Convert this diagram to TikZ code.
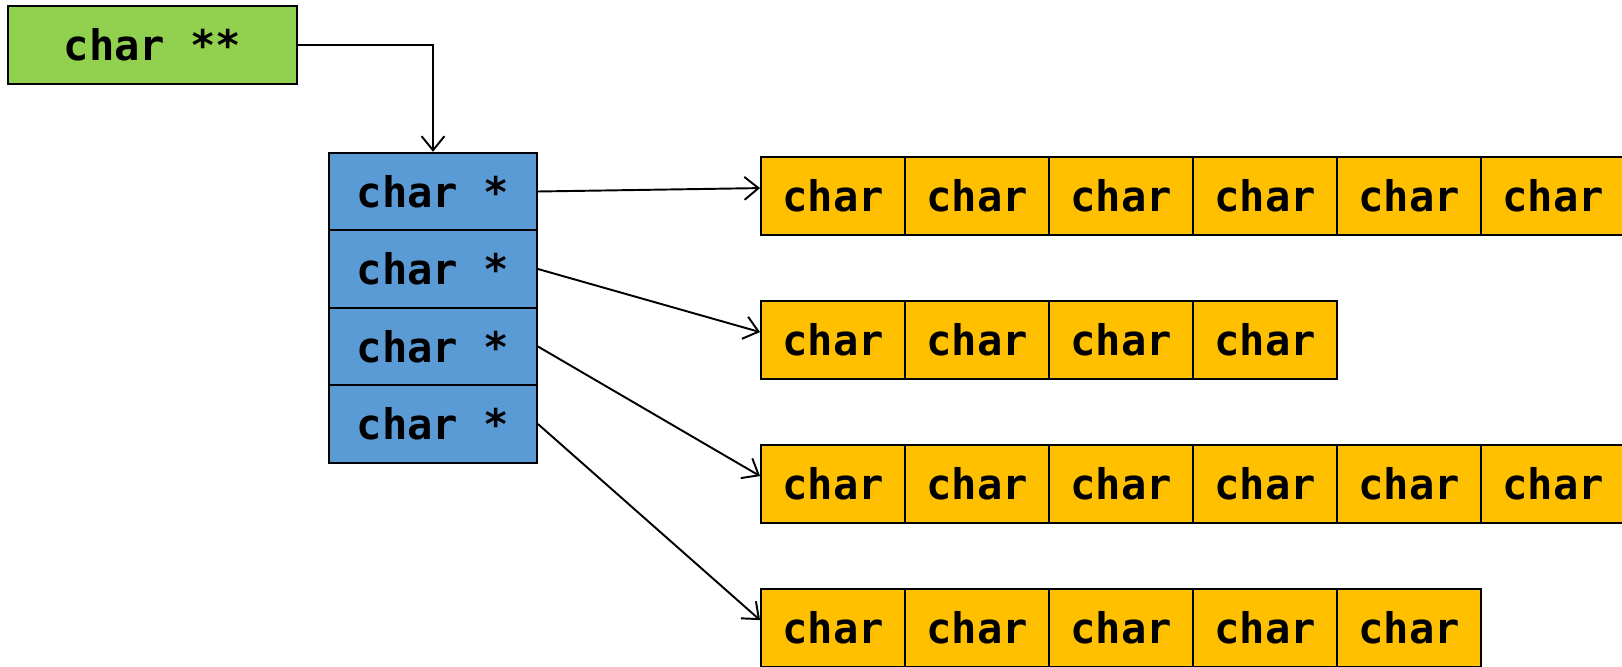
\documentclass[tikz,border=0pt]{standalone}
\usepackage{fontspec}
\setmonofont{DejaVu Sans Mono}
\usetikzlibrary{arrows.meta}
\definecolor{ptrgreen}{HTML}{92D050}
\definecolor{ptrblue}{HTML}{5B9BD5}
\definecolor{chargold}{HTML}{FFC000}
\begin{document}
\begin{tikzpicture}[x=0.02cm,y=-0.02cm,
    cell/.style={draw,line width=1.1pt,inner sep=0pt,font=\ttfamily\bfseries\fontsize{24}{28}\selectfont},
    ptr/.style={line width=1.1pt,-{Straight Barb[length=8pt,width=13pt]}}]
    \useasboundingbox (0,0) rectangle (1622,666);
    \node[cell,fill=ptrgreen,minimum width=5.78cm,minimum height=1.56cm] (pp) at (152.5,45) {char **};
    \foreach \i/\y in {1/191.5,2/269,3/346.5,4/424}
        \node[cell,fill=ptrblue,minimum width=4.16cm,minimum height=1.55cm] (p\i) at (433,\y) {char *};
    \foreach \i/\y/\n in {1/196/6,2/340/4,3/484/6,4/628/5}
        \foreach \j in {1,...,\n}
            \node[cell,fill=chargold,minimum width=2.88cm,minimum height=1.56cm] (c\i\j) at (689+144*\j,\y) {char};
    \draw[ptr] (pp.east) -| (p1.north);
    \foreach \i in {1,...,4}
        \draw[ptr] (p\i.east) -- ([yshift=4.5pt]c\i1.west);
\end{tikzpicture}
\end{document}
